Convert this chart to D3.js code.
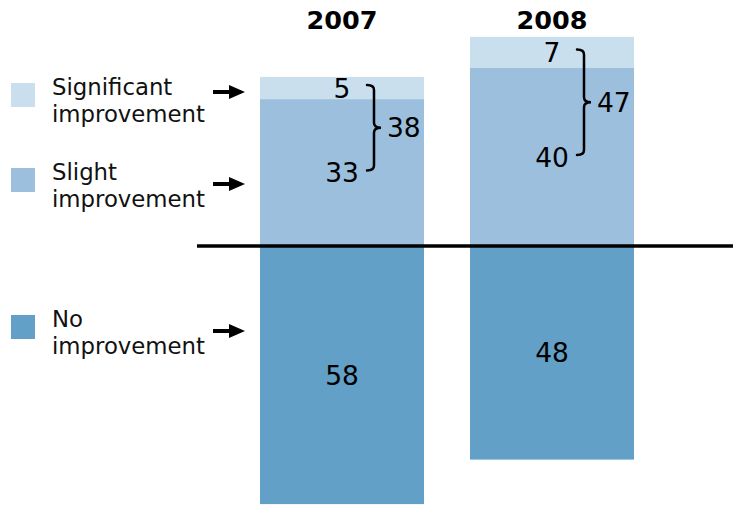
<!DOCTYPE html>
<html>
<head>
<meta charset="utf-8">
<script src="https://cdn.jsdelivr.net/npm/d3@7"></script>
<style>
  html, body { margin: 0; padding: 0; background: #fff; }
  svg { display: block; font-family: "DejaVu Sans", Verdana, sans-serif; }
</style>
</head>
<body>
<svg id="chart" width="733" height="515"></svg>
<script>
// Survey years
const years = ["2007", "2008"];
// Share of respondents (%) per answer, by year
const significant = [5, 7];
const slight = [33, 40];
const noImprovement = [58, 48];
// Answer categories (legend), top to bottom
const categories = ["Significant\nimprovement", "Slight\nimprovement", "No\nimprovement"];
const colors = ["#c9dfee", "#9bbfdc", "#62a0c8"];

const svg = d3.select("#chart");
const W = 733, H = 515;

const x = d3.scaleBand().domain(years).range([260, 634]).paddingInner(46 / 210).paddingOuter(0);
// diverging value axis: positive answers above the line, negative below
const y = d3.scaleLinear().domain([0, 10]).range([246, 246 - 44.5]);

const rows = years.map((yr, i) => ({
  year: yr,
  segs: [
    { key: 0, v0: slight[i], v1: slight[i] + significant[i], val: significant[i] },
    { key: 1, v0: 0, v1: slight[i], val: slight[i] },
    { key: 2, v0: -noImprovement[i], v1: 0, val: noImprovement[i] }
  ],
  total: significant[i] + slight[i]
}));

const g = svg.append("g");
const bars = g.selectAll("g.bar").data(rows).join("g").attr("class", "bar");

bars.selectAll("rect").data(d => d.segs).join("rect")
  .attr("x", function() { return x(d3.select(this.parentNode).datum().year); })
  .attr("width", x.bandwidth())
  .attr("y", d => y(d.v1))
  .attr("height", d => y(d.v0) - y(d.v1))
  .attr("fill", d => colors[d.key]);

// segment values
bars.selectAll("text.val").data(d => d.segs).join("text")
  .attr("class", "val")
  .attr("x", function() { const r = d3.select(this.parentNode).datum(); return x(r.year) + x.bandwidth() / 2; })
  .attr("y", d => y((d.v0 + d.v1) / 2))
  .attr("dy", "0.36em")
  .attr("text-anchor", "middle")
  .attr("font-size", 26.5)
  .attr("fill", "#000")
  .text(d => d.val);

// curly brace grouping the two positive answers
function bracePath(x0, yTop, yBot) {
  const w = 14, mid = (yTop + yBot) / 2, xv = x0 + w / 2, xt = x0 + w, r = 5;
  return `M${x0},${yTop} Q${xv},${yTop} ${xv},${yTop + r} L${xv},${mid - r} Q${xv},${mid} ${xt},${mid}` +
         ` Q${xv},${mid} ${xv},${mid + r} L${xv},${yBot - r} Q${xv},${yBot} ${x0},${yBot}`;
}
bars.each(function(r) {
  const cx = x(r.year) + x.bandwidth() / 2;
  const yTop = y((r.segs[0].v0 + r.segs[0].v1) / 2) - 3;
  const yBot = y((r.segs[1].v0 + r.segs[1].v1) / 2) - 2;
  const sel = d3.select(this);
  sel.append("path")
    .attr("d", bracePath(cx + 25, yTop, yBot))
    .attr("fill", "none").attr("stroke", "#000").attr("stroke-width", 2.5)
    .attr("stroke-linecap", "round");
  sel.append("text")
    .attr("x", cx + 45).attr("y", (yTop + yBot) / 2).attr("dy", "0.36em")
    .attr("font-size", 26.5).attr("fill", "#000")
    .text(r.total);
});

// year headers
g.selectAll("text.year").data(years).join("text")
  .attr("class", "year")
  .attr("x", d => x(d) + x.bandwidth() / 2)
  .attr("y", 29)
  .attr("text-anchor", "middle")
  .attr("font-size", 25.5).attr("font-weight", "bold").attr("fill", "#000")
  .text(d => d);

// zero line
g.append("line")
  .attr("x1", 197).attr("x2", W)
  .attr("y1", y(0)).attr("y2", y(0))
  .attr("stroke", "#000").attr("stroke-width", 3.5);

// legend with pointer arrows
const legendTop = [83, 168, 315];
const arrowY = [9, 16, 16];
const leg = svg.append("g").selectAll("g").data(categories).join("g")
  .attr("transform", (d, i) => `translate(0,${legendTop[i]})`);
leg.append("rect").attr("x", 11).attr("y", 0).attr("width", 24).attr("height", 24)
  .attr("fill", (d, i) => colors[i]);
leg.append("text")
  .attr("x", 52).attr("y", 12).attr("font-size", 22.8).attr("fill", "#111")
  .selectAll("tspan").data(d => d.split("\n")).join("tspan")
  .attr("x", 52).attr("dy", (d, j) => j === 0 ? 0 : 27)
  .text(d => d);
leg.append("line")
  .attr("x1", 213).attr("x2", 232).attr("y1", (d, i) => arrowY[i]).attr("y2", (d, i) => arrowY[i])
  .attr("stroke", "#000").attr("stroke-width", 4);
leg.append("path")
  .attr("d", (d, i) => { const a = arrowY[i]; return `M229,${a - 7} L245,${a} L229,${a + 7} Z`; })
  .attr("fill", "#000");
</script>
</body>
</html>
